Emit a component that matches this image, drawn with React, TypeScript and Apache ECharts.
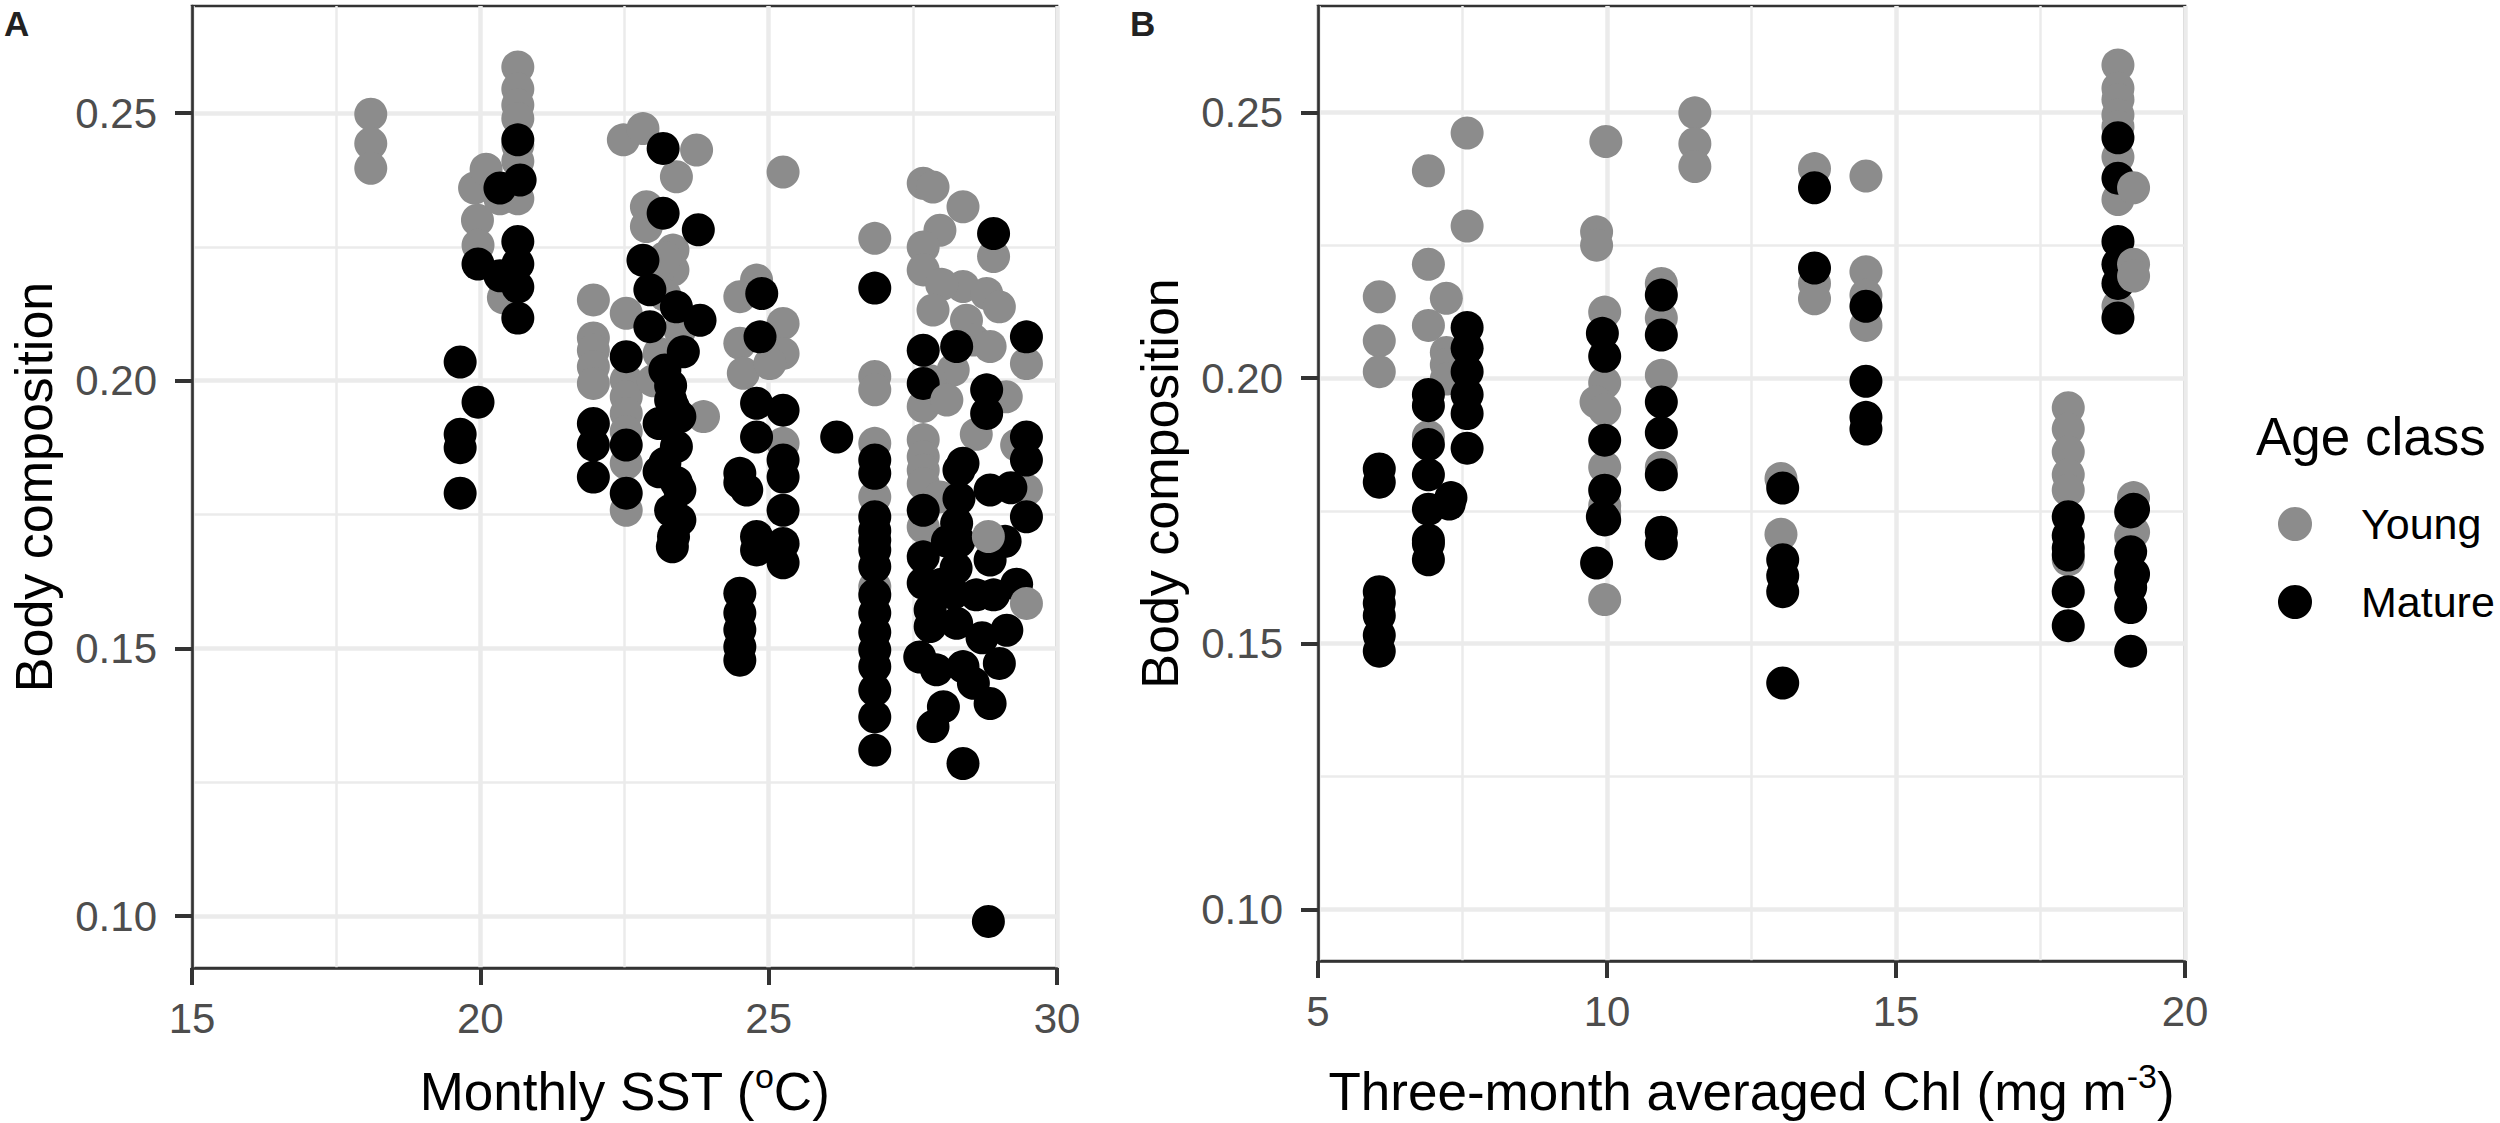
import { useEffect, useRef } from 'react';
import * as echarts from 'echarts';

// Panel A: body composition vs monthly SST
const sstYoung: [number, number][] = [
  [18.1, 0.2498], [18.1, 0.2443], [18.1, 0.2397],
  [19.9, 0.236], [20.1, 0.2395], [19.95, 0.23], [19.96, 0.2253], [20.34, 0.234], [20.4, 0.2155],
  [20.65, 0.2586], [20.65, 0.2545], [20.65, 0.2515], [20.65, 0.249], [20.65, 0.244], [20.65, 0.241], [20.65, 0.234],
  [21.96, 0.2151], [21.96, 0.208], [21.96, 0.2057], [21.96, 0.2026], [21.96, 0.1995],
  [22.48, 0.245], [22.53, 0.2126], [22.53, 0.2001], [22.53, 0.197], [22.53, 0.1939], [22.53, 0.1905], [22.53, 0.1846], [22.53, 0.1758],
  [22.82, 0.2471], [23.75, 0.2431], [23.4, 0.2381], [22.88, 0.2325], [22.88, 0.2288], [23.34, 0.2244], [23.34, 0.2207],
  [23.06, 0.2194], [23.2, 0.223], [23.2, 0.216], [23.46, 0.2095], [23.1, 0.2051], [23.0, 0.2], [23.87, 0.1933],
  [24.79, 0.2188], [24.5, 0.2157], [25.25, 0.2107], [24.5, 0.207], [25.25, 0.2051], [24.56, 0.2014], [25.02, 0.2032],
  [25.25, 0.1883], [25.25, 0.239],
  [26.84, 0.2266], [26.84, 0.2008], [26.84, 0.1983], [26.84, 0.1883], [26.84, 0.1783], [26.84, 0.1615],
  [27.68, 0.2369], [27.85, 0.2362], [28.37, 0.2325], [27.97, 0.2281], [27.68, 0.225], [27.68, 0.2207], [28.9, 0.2232],
  [28.37, 0.2176], [28.78, 0.2163], [28.0, 0.218], [27.85, 0.2132], [29.0, 0.2138], [28.43, 0.2113], [28.55, 0.2076],
  [29.47, 0.2032], [28.84, 0.2064], [28.2, 0.202], [27.8, 0.2], [27.68, 0.1952], [29.12, 0.197], [28.6, 0.19],
  [27.68, 0.189], [29.3, 0.188], [27.68, 0.1858], [27.68, 0.1833], [27.68, 0.1808], [27.97, 0.1783], [29.47, 0.1796],
  [27.68, 0.1727],
];
const sstYoungTop: [number, number][] = [
  [28.09, 0.1964], [28.81, 0.1709], [29.47, 0.1584],
];
const sstMature: [number, number][] = [
  [19.65, 0.2035], [19.65, 0.19], [19.65, 0.1875], [19.65, 0.179], [19.96, 0.196],
  [19.96, 0.2218], [20.34, 0.236], [20.69, 0.2375],
  [20.65, 0.245], [20.65, 0.226], [20.65, 0.2218], [20.65, 0.2175], [20.65, 0.2117], [20.34, 0.2196],
  [21.96, 0.192], [21.96, 0.188], [21.96, 0.182],
  [22.53, 0.2045], [22.53, 0.188], [22.53, 0.179],
  [23.17, 0.2434], [23.17, 0.2313], [23.78, 0.2282], [22.82, 0.2225], [22.94, 0.217], [23.4, 0.2138], [23.81, 0.2113],
  [22.94, 0.2101], [23.52, 0.2054], [23.2, 0.202], [23.3, 0.1991], [23.3, 0.1964], [23.35, 0.195], [23.46, 0.1933],
  [23.1, 0.192], [23.4, 0.1877], [23.2, 0.1846], [23.1, 0.183], [23.4, 0.181], [23.46, 0.1796], [23.3, 0.1758],
  [23.46, 0.174], [23.35, 0.1709], [23.33, 0.169],
  [24.88, 0.2163], [24.85, 0.2082], [24.79, 0.1958], [25.25, 0.1945], [24.79, 0.1895], [25.25, 0.1852], [24.5, 0.1827],
  [25.25, 0.182], [24.5, 0.181], [24.62, 0.1796], [25.25, 0.1758], [24.79, 0.1709], [25.25, 0.1696], [24.79, 0.1684],
  [25.25, 0.166], [24.5, 0.1603], [24.5, 0.1566], [24.5, 0.1535], [24.5, 0.1503], [24.5, 0.1478],
  [26.18, 0.1895],
  [26.84, 0.2173], [26.84, 0.1852], [26.84, 0.1827], [26.84, 0.1746], [26.84, 0.172], [26.84, 0.1702], [26.84, 0.1684],
  [26.84, 0.1653], [26.84, 0.16], [26.84, 0.1566], [26.84, 0.153], [26.84, 0.1497], [26.84, 0.1466], [26.84, 0.1422],
  [26.84, 0.1372], [26.84, 0.131],
  [28.9, 0.2275], [29.47, 0.2082], [27.68, 0.2057], [28.26, 0.2064], [27.68, 0.1995], [28.78, 0.1983], [28.78, 0.1939],
  [29.47, 0.1895], [29.47, 0.1852], [28.37, 0.1846], [28.3, 0.1833], [28.84, 0.1796], [29.2, 0.18], [28.3, 0.178],
  [27.68, 0.1758], [29.47, 0.1746], [28.26, 0.1734], [28.3, 0.17], [29.1, 0.17], [28.1, 0.17], [27.68, 0.1671],
  [28.84, 0.1665], [28.25, 0.165], [27.68, 0.1622], [28.0, 0.162], [29.3, 0.162], [28.2, 0.1603], [28.6, 0.16],
  [28.9, 0.16], [27.8, 0.1572], [28.26, 0.1547], [27.8, 0.1541], [29.13, 0.1534], [28.7, 0.152], [27.62, 0.1484],
  [29.0, 0.1472], [27.91, 0.146], [28.37, 0.1466], [28.55, 0.1435], [28.84, 0.1397], [28.03, 0.1391], [27.85, 0.1354],
  [28.37, 0.1285], [28.81, 0.099],
];

// Panel B: body composition vs three-month averaged Chl
const chlYoung: [number, number][] = [
  [6.06, 0.2153], [6.06, 0.207], [6.06, 0.2012],
  [6.91, 0.239], [6.91, 0.2214], [6.91, 0.2099], [6.91, 0.189],
  [7.22, 0.215], [7.22, 0.2048], [7.22, 0.2025], [7.22, 0.1998],
  [7.58, 0.2461], [7.58, 0.2286],
  [9.98, 0.2445], [9.82, 0.2275], [9.82, 0.225], [9.96, 0.2124], [9.96, 0.1991], [9.81, 0.1955], [9.96, 0.194],
  [9.96, 0.1832], [9.96, 0.176], [9.96, 0.1748], [9.96, 0.1583],
  [10.94, 0.2178], [10.94, 0.2113], [10.94, 0.2005], [10.94, 0.1832],
  [11.52, 0.2499], [11.52, 0.2441], [11.52, 0.2398],
  [13.01, 0.1811], [13.01, 0.1706],
  [13.59, 0.2394], [13.59, 0.2178], [13.59, 0.2149],
  [14.48, 0.238], [14.48, 0.22], [14.48, 0.2156], [14.48, 0.2099],
  [18.84, 0.2589], [18.84, 0.2545], [18.84, 0.2524], [18.84, 0.2495], [18.84, 0.2473], [18.84, 0.2416], [18.84, 0.2336],
  [18.84, 0.2135],
  [17.98, 0.1944], [17.98, 0.1904], [17.98, 0.1861], [17.98, 0.1818], [17.98, 0.1789], [17.98, 0.1658],
  [19.11, 0.1775], [19.06, 0.1703], [19.11, 0.171],
];
const chlYoungTop: [number, number][] = [
  [19.11, 0.2358], [19.11, 0.2214], [19.11, 0.2192],
];
const chlMature: [number, number][] = [
  [6.06, 0.1829], [6.06, 0.1804], [6.06, 0.1598], [6.06, 0.1576], [6.06, 0.1553], [6.06, 0.1516], [6.06, 0.1486],
  [6.91, 0.1969], [6.91, 0.1948], [6.91, 0.1875], [6.91, 0.1818], [6.91, 0.1753], [6.91, 0.1695], [6.91, 0.1688],
  [6.91, 0.1658],
  [7.3, 0.1775], [7.27, 0.1763],
  [7.58, 0.2095], [7.58, 0.2056], [7.58, 0.2012], [7.58, 0.1969], [7.58, 0.1933], [7.58, 0.1868],
  [9.92, 0.2084], [9.96, 0.2041], [9.96, 0.1883], [9.96, 0.1789], [9.92, 0.1739], [9.96, 0.1733], [9.82, 0.1652],
  [10.94, 0.2156], [10.94, 0.2081], [10.94, 0.1955], [10.94, 0.1897], [10.94, 0.1818], [10.94, 0.171], [10.94, 0.1688],
  [13.04, 0.1793], [13.04, 0.1658], [13.04, 0.1628], [13.04, 0.1598], [13.04, 0.1426],
  [13.59, 0.2358], [13.59, 0.2207],
  [14.48, 0.2135], [14.48, 0.1994], [14.48, 0.1926], [14.48, 0.1904],
  [18.84, 0.2452], [18.84, 0.2376], [18.84, 0.2257], [18.84, 0.2214], [18.84, 0.2178], [18.84, 0.2113],
  [17.98, 0.1739], [17.98, 0.1703], [17.98, 0.168], [17.98, 0.1667], [17.98, 0.1598], [17.98, 0.1534],
  [19.11, 0.1753], [19.06, 0.1748], [19.06, 0.1673], [19.11, 0.1631], [19.06, 0.1635], [19.06, 0.1606], [19.06, 0.1568],
  [19.06, 0.1486],
];

const yMajorTicks = [0.1, 0.15, 0.2, 0.25];
const yMinorTicks = [0.125, 0.175, 0.225];
const ageClasses = ['Young', 'Mature'];

const GREY = '#8c8c8c';
const DARK = '#333333';
const GRID_LINE = '#ebebeb';
const LABEL = '#4d4d4d';
const FONT = "'Liberation Sans', Arial, sans-serif";

const titleRich = {
  a: { fontSize: 53, fontFamily: FONT, color: '#000', lineHeight: 64 },
  s: { fontSize: 34, fontFamily: FONT, color: '#000', lineHeight: 40, verticalAlign: 'top' },
};

function xAxis(gridIndex: number, min: number, max: number, name: string, nameGap: number) {
  return {
    type: 'value',
    gridIndex,
    min,
    max,
    interval: 5,
    name,
    nameLocation: 'middle',
    nameGap,
    nameTextStyle: { rich: titleRich },
    axisLine: { show: true, onZero: false, lineStyle: { color: DARK, width: 2.7 } },
    axisTick: { show: true, length: 17, lineStyle: { color: DARK, width: 4 } },
    axisLabel: { margin: 29, color: LABEL, fontSize: 42, fontFamily: FONT },
    splitLine: { show: true, lineStyle: { color: GRID_LINE, width: 4.5 } },
    minorTick: { show: false, splitNumber: 2 },
    minorSplitLine: { show: true, lineStyle: { color: GRID_LINE, width: 2.5 } },
  };
}

function yAxes(gridIndex: number) {
  return [
    {
      type: 'value',
      gridIndex,
      min: 0.0903,
      max: 0.27,
      name: 'Body composition',
      nameLocation: 'middle',
      nameGap: 137,
      nameTextStyle: { fontSize: 52, color: '#000', fontFamily: FONT, lineHeight: 42 },
      axisLine: { show: true, onZero: false, lineStyle: { color: DARK, width: 2.7 } },
      axisTick: { show: true, length: 17, customValues: yMajorTicks, lineStyle: { color: DARK, width: 4 } },
      axisLabel: {
        customValues: yMajorTicks,
        margin: 35,
        color: LABEL,
        fontSize: 42,
        fontFamily: FONT,
        formatter: (v: number) => v.toFixed(2),
      },
      splitLine: { show: true, lineStyle: { color: GRID_LINE, width: 4.5 } },
    },
    {
      // only carries the thin minor grid lines
      type: 'value',
      gridIndex,
      position: 'left',
      min: 0.0903,
      max: 0.27,
      axisLine: { show: false },
      axisTick: { show: false, customValues: yMinorTicks },
      axisLabel: { show: false },
      splitLine: { show: true, lineStyle: { color: GRID_LINE, width: 2.5 } },
    },
  ];
}

function points(name: string, data: [number, number][], color: string, grid: number) {
  return {
    type: 'scatter',
    name,
    data,
    xAxisIndex: grid,
    yAxisIndex: grid * 2,
    symbol: 'circle',
    symbolSize: 33,
    itemStyle: { color, opacity: 1 },
    emphasis: { disabled: true },
    silent: true,
  };
}

export default function App() {
  const chartRef = useRef<HTMLDivElement>(null);

  useEffect(() => {
    if (!chartRef.current) return;
    document.body.style.margin = '0';
    const chart = echarts.init(chartRef.current, undefined, { renderer: 'svg' });

    const option = {
      animation: false,
      backgroundColor: '#fff',
      textStyle: { fontFamily: FONT },
      title: [
        { text: 'A', left: 4, top: 6, padding: 0, textStyle: { fontSize: 35, fontWeight: 'bold', color: '#222', fontFamily: FONT } },
        { text: 'B', left: 1130, top: 6, padding: 0, textStyle: { fontSize: 35, fontWeight: 'bold', color: '#222', fontFamily: FONT } },
        { text: 'Age class', left: 2256, top: 410, padding: 0, textStyle: { fontSize: 53, fontWeight: 'normal', color: '#000', fontFamily: FONT, lineHeight: 53 } },
      ],
      legend: {
        data: ageClasses,
        orient: 'vertical',
        left: 2278,
        top: 502,
        padding: 0,
        icon: 'circle',
        itemWidth: 34,
        itemHeight: 34,
        itemGap: 34,
        selectedMode: false,
        textStyle: { fontSize: 43, color: '#000', fontFamily: FONT, lineHeight: 44, padding: [0, 0, 0, 44] },
      },
      grid: [
        { left: 192, top: 6, width: 865, height: 962, show: true, borderColor: DARK, borderWidth: 2.7 },
        { left: 1318, top: 6, width: 867, height: 955, show: true, borderColor: DARK, borderWidth: 2.7 },
      ],
      xAxis: [
        xAxis(0, 15, 30, '{a|Monthly SST (}{s|o}{a|C)}', 91),
        xAxis(1, 5, 20, '{a|Three-month averaged Chl (mg m}{s|-3}{a|)}', 98),
      ],
      yAxis: [...yAxes(0), ...yAxes(1)],
      series: [
        points('Young', sstYoung, GREY, 0),
        points('Mature', sstMature, '#000', 0),
        points('Young', sstYoungTop, GREY, 0),
        points('Young', chlYoung, GREY, 1),
        points('Mature', chlMature, '#000', 1),
        points('Young', chlYoungTop, GREY, 1),
      ],
    };

    chart.setOption(option as echarts.EChartsOption);
    return () => {
      chart.dispose();
    };
  }, []);

  return <div ref={chartRef} style={{ width: '2500px', height: '1123px' }} />;
}
